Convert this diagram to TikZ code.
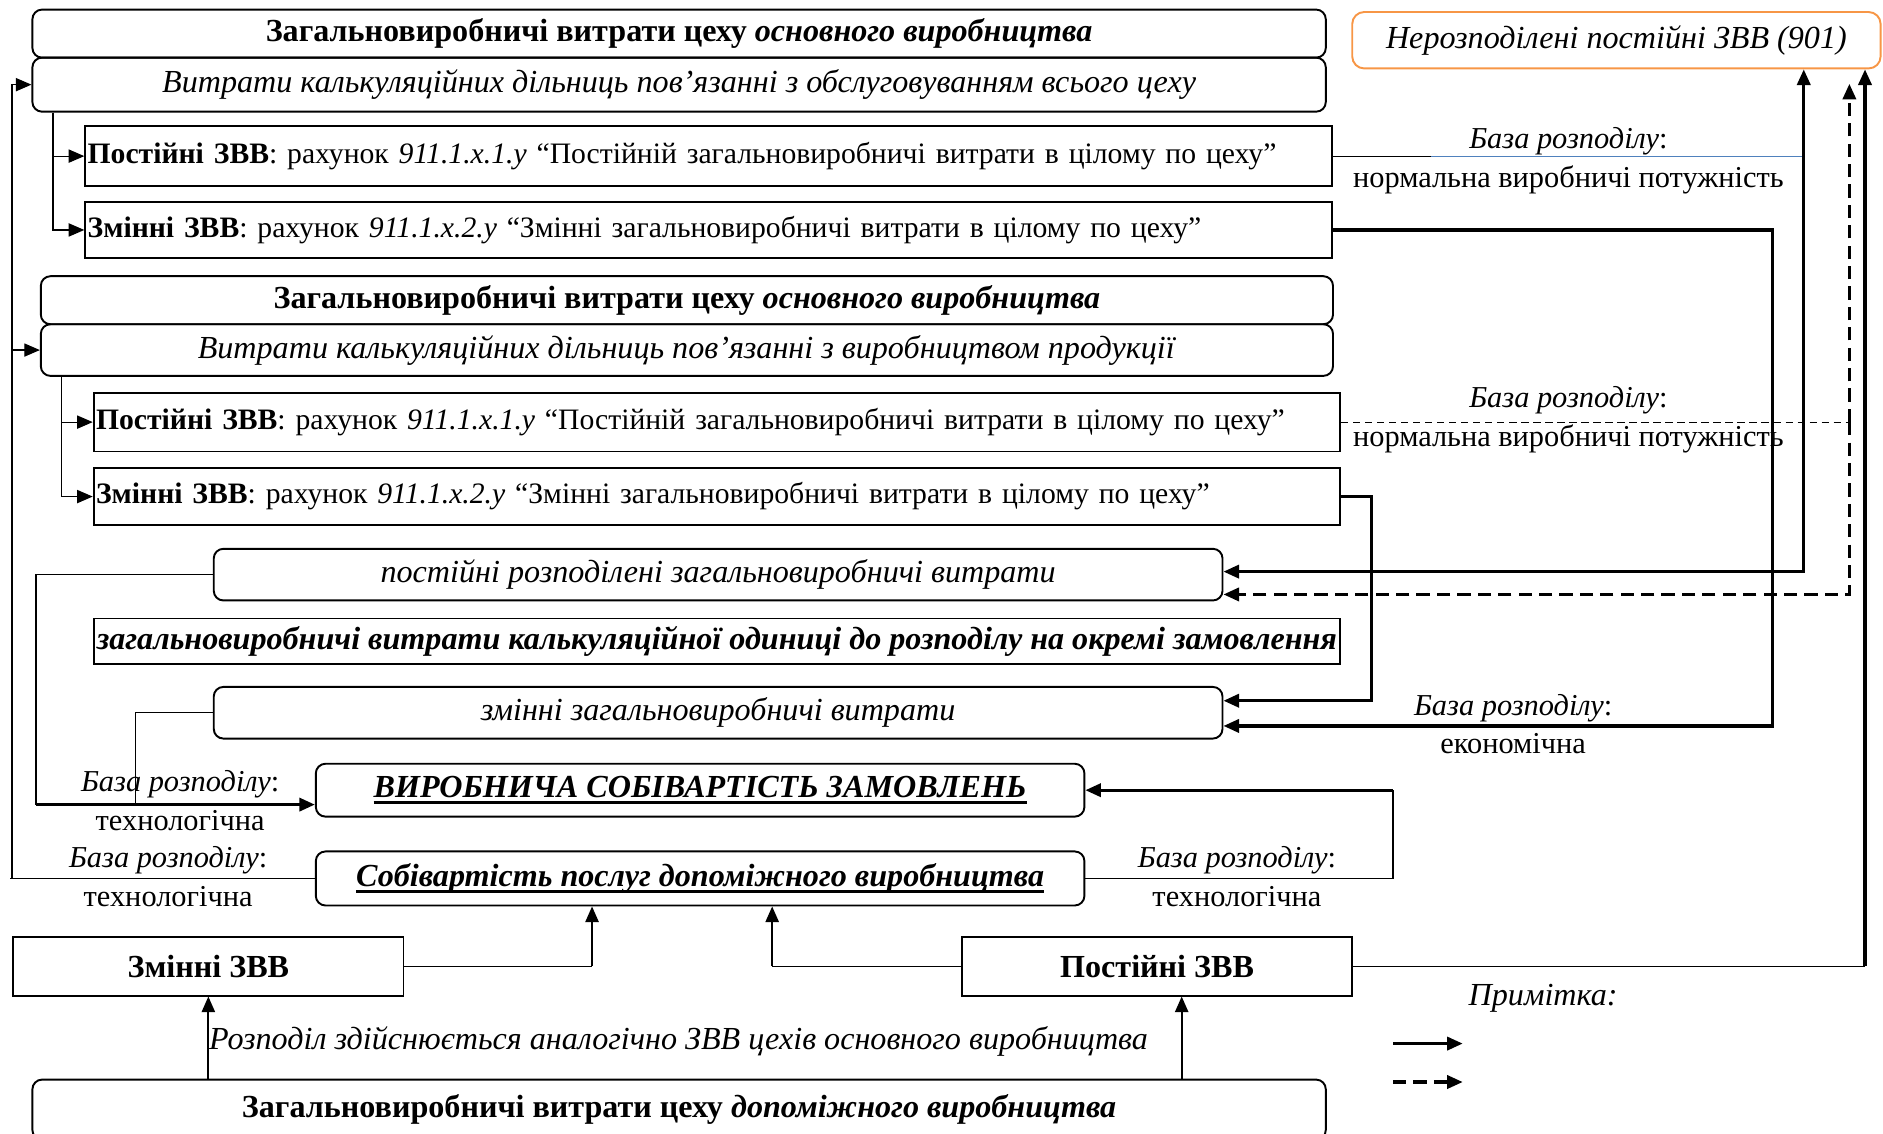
\documentclass[tikz,border=0pt]{standalone}
\usepackage{fontspec}
\setmainfont{Liberation Serif}
\usepackage{xcolor}
\usetikzlibrary{arrows.meta, positioning, calc}
\definecolor{zvvorange}{RGB}{247,150,70}
\definecolor{zvvblue}{RGB}{79,129,189}
\newcommand{\ulbold}[1]{\setbox0=\hbox{#1}\rlap{\rule[-5.5pt]{\wd0}{2.8pt}}\box0}
\tikzset{
  every node/.style={font=\fontsize{26.75}{33}\selectfont},
  rbox/.style={draw, rounded corners=8pt, line width=1.6pt, inner sep=0pt},
  sbox/.style={draw, line width=1.6pt, inner sep=0pt},
  acct/.style={sbox, minimum width=1038pt, text width=1034pt, align=left, font=\fontsize{24.7}{30}\selectfont},
  basetxt/.style={align=center, inner sep=0pt, font=\fontsize{25.3}{32}\selectfont},
  thinln/.style={line width=1pt},
  midln/.style={line width=1.6pt},
  heavyln/.style={line width=2.6pt},
  tip/.style={-{Triangle[length=13pt,width=11pt]}},
  dashln/.style={dash pattern=on 11pt off 6pt},
}

\begin{document}
\begin{tikzpicture}[x=1pt, y=-1pt]
    \useasboundingbox (0,0) rectangle (1568,944);

    % Цех основного виробництва: обслуговування
    \node[rbox, minimum width=1077pt, minimum height=40pt] (a1) at (565.5,28) {\textbf{Загальновиробничі витрати цеху \textit{основного виробництва}}};
    \node[rbox, minimum width=1077pt, minimum height=45pt] (a2) at (565.5,70.5) {\textit{Витрати калькуляційних дільниць пов’язанні з обслуговуванням всього цеху}};
    \node[acct, minimum height=50pt] (p1) at (590,130) {\textbf{Постійні ЗВВ}: рахунок \textit{911.1.x.1.y} “Постійній загальновиробничі витрати в цілому по цеху”};
    \node[acct, minimum height=47pt] (z1) at (590,191.5) {\textbf{Змінні ЗВВ}: рахунок \textit{911.1.x.2.y} “Змінні загальновиробничі витрати в цілому по цеху”};

    % Нерозподілені
    \node[rbox, draw=zvvorange, rounded corners=10pt, minimum width=440pt, minimum height=47pt] (n) at (1346,33.5) {\textit{Нерозподілені постійні ЗВВ (901)}};

    % Цех основного виробництва: продукція
    \node[rbox, minimum width=1076pt, minimum height=40pt] (b1) at (572,250) {\textbf{Загальновиробничі витрати цеху \textit{основного виробництва}}};
    \node[rbox, minimum width=1076pt, minimum height=43pt] (b2) at (572,291.5) {\textit{Витрати калькуляційних дільниць пов’язанні з виробництвом продукції}};
    \node[acct, minimum height=49pt] (p2) at (597,351.5) {\textbf{Постійні ЗВВ}: рахунок \textit{911.1.x.1.y} “Постійній загальновиробничі витрати в цілому по цеху”};
    \node[acct, minimum height=47pt] (z2) at (597,413.5) {\textbf{Змінні ЗВВ}: рахунок \textit{911.1.x.2.y} “Змінні загальновиробничі витрати в цілому по цеху”};

    % Розподіл
    \node[rbox, minimum width=840pt, minimum height=43pt] (c1) at (598,478.5) {\textit{постійні розподілені загальновиробничі витрати}};
    \node[sbox, minimum width=1038pt, minimum height=38pt] (d) at (597,534) {\textbf{\textit{загальновиробничі витрати калькуляційної одиниці до розподілу на окремі замовлення}}};
    \node[rbox, minimum width=840pt, minimum height=43pt] (c2) at (598,593.5) {\textit{змінні загальновиробничі витрати}};
    \node[rbox, minimum width=640pt, minimum height=44pt] (v) at (583,658) {\ulbold{\textbf{\textit{ВИРОБНИЧА СОБІВАРТІСТЬ ЗАМОВЛЕНЬ}}}};
    \node[rbox, minimum width=640pt, minimum height=45pt] (s) at (583,731.5) {\ulbold{\textbf{\textit{Собівартість послуг допоміжного виробництва}}}};

    % Допоміжне виробництво
    \node[sbox, minimum width=325pt, minimum height=49pt] (zv) at (173.5,804.5) {\textbf{Змінні ЗВВ}};
    \node[sbox, minimum width=325pt, minimum height=49pt] (pv) at (963.5,804.5) {\textbf{Постійні ЗВВ}};
    \node[rbox, minimum width=1077pt, minimum height=50pt] (h) at (565.5,924) {\textbf{Загальновиробничі витрати цеху \textit{допоміжного виробництва}}};
    \node (rozp) at (565,867) {\textit{Розподіл здійснюється аналогічно ЗВВ цехів основного виробництва}};

    % Бази розподілу
    \node[basetxt] (bz1) at (1306,134) {\textit{База розподілу}:\\нормальна виробничі потужність};
    \node[basetxt] (bz2) at (1306,349.5) {\textit{База розподілу}:\\нормальна виробничі потужність};
    \node[basetxt] (bz3) at (1260,603) {\textit{База розподілу}:\\економічна};
    \node[basetxt] (bz4) at (150,666.5) {\textit{База розподілу}:\\технологічна};
    \node[basetxt] (bz5) at (140,730) {\textit{База розподілу}:\\технологічна};
    \node[basetxt] (bz6) at (1030,730) {\textit{База розподілу}:\\технологічна};

    % Ліва шина
    \coordinate (lbus) at (10,731.5);
    \draw[thinln] (s.west) -- ([xshift=-2pt]lbus);
    \draw[thinln, tip] (lbus) |- (a2.west);
    \draw[thinln, tip] (lbus |- b2.west) -- (b2.west);
    \draw[thinln, tip] ([xshift=18pt]a2.south west) |- (p1.west);
    \draw[thinln, tip] ([xshift=18pt]a2.south west) |- (z1.west);
    \draw[thinln, tip] ([xshift=18pt]b2.south west) |- (p2.west);
    \draw[thinln, tip] ([xshift=18pt]b2.south west) |- (z2.west);

    % Постійні ЗВВ -> 901 та розподілені
    \coordinate (j1) at (1502,130);
    \draw[thinln] (p1.east) -- (j1);
    \draw[thinln, zvvblue] ([xshift=-310pt]j1) -- (j1);
    \draw[heavyln, tip] (j1) -- (j1 |- n.south);
    \draw[heavyln, tip] (j1) |- ([yshift=2.5pt]c1.east);
    \coordinate (j2) at (1540,351.5);
    \draw[thinln, dash pattern=on 6pt off 4pt] (p2.east) -- (j2);
    \draw[heavyln, dashln, tip] (j2) -- ($(j2 |- n.south)+(0,12)$);
    \draw[heavyln, dashln, tip] (j2) |- ([yshift=-16.5pt]c1.east);

    % Змінні ЗВВ -> змінні витрати
    \coordinate (r1) at (1476,191.5);
    \draw[heavyln, tip] (z1.east) -- (r1) |- ([yshift=-11pt]c2.east);
    \coordinate (r2) at (1142,413.5);
    \draw[heavyln, tip] (z2.east) -- (r2) |- ([yshift=10pt]c2.east);

    % Постійні ЗВВ допоміжного -> 901
    \coordinate (j3) at (1553,804.5);
    \draw[thinln] (pv.east) -- (j3);
    \draw[heavyln, tip] (j3) -- (j3 |- n.south);

    % До собівартості замовлень
    \coordinate (k1) at (30,670);
    \coordinate (k2) at (113,670);
    \draw[thinln] (c1.west) -| (k1);
    \draw[thinln] (c2.west) -| (k2);
    \draw[heavyln, tip] (k1) -- (k1 -| v.west);
    \coordinate (k3) at (1160,658);
    \draw[thinln] (s.east) -| (k3);
    \draw[heavyln, tip] (k3) -- (v.east);

    % Допоміжне виробництво -> собівартість послуг
    \coordinate (m1) at (493,804.5);
    \coordinate (m2) at (643,804.5);
    \draw[thinln] (zv.east) -- (m1);
    \draw[midln, tip] (m1) -- (m1 |- s.south);
    \draw[thinln] (pv.west) -- (m2);
    \draw[midln, tip] (m2) -- (m2 |- s.south);
    \coordinate (pvs) at ($(pv.south)+(20.5,0)$);
    \draw[midln, tip] (zv.south |- h.north) -- (zv.south);
    \draw[midln, tip] (pvs |- h.north) -- (pvs);

    % Примітка
    \node (prim) at (1285,831) {\textit{Примітка:}};
    \coordinate (lg1) at (1160,869);
    \coordinate (lg2) at (1160,901);
    \draw[heavyln, tip] (lg1) -- ++(58,0);
    \draw[heavyln, dashln, tip] (lg2) -- ++(58,0);

\end{tikzpicture}
\end{document}
